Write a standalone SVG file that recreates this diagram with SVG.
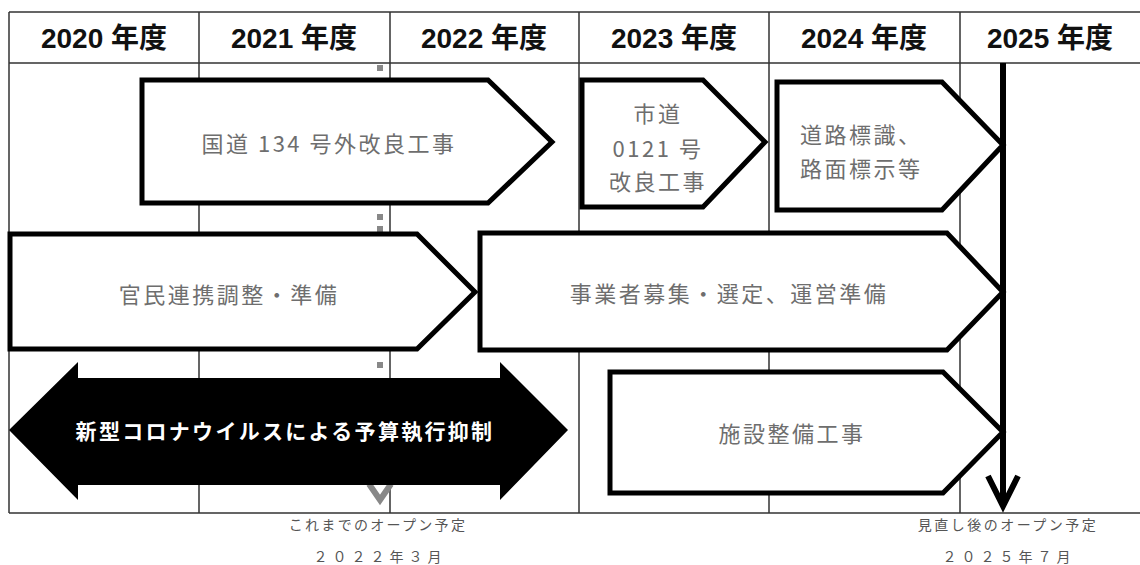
<svg xmlns="http://www.w3.org/2000/svg" width="1140" height="565" viewBox="0 0 1140 565">
<style>
.grid{stroke:#333;stroke-width:1.5;fill:none}
.hdr{font-family:"Liberation Sans","Noto Sans CJK JP",sans-serif;font-weight:bold;font-size:28px;fill:#111;text-anchor:middle;dominant-baseline:central}
.box{fill:#fff;stroke:#000;stroke-width:5;stroke-linejoin:miter}
.lbl{font-family:"Noto Sans CJK JP",sans-serif;font-size:22px;fill:#6e6e6e;letter-spacing:2.5px;dominant-baseline:central}
.mid{text-anchor:middle}
.note{font-family:"Noto Sans CJK JP",sans-serif;font-size:14px;fill:#555;text-anchor:middle}
.big{font-family:"Noto Sans CJK JP",sans-serif;font-weight:bold;font-size:21px;fill:#fff;letter-spacing:2.3px;text-anchor:middle;dominant-baseline:central}
.dot{fill:#888}
</style>
<rect width="1140" height="565" fill="#fff"/>
<g id="table">
<path class="grid" d="M9,12H1140M9,63H1140M9,513H1140M9,12V513M199,12V513M390,12V513M579,12V513M769,12V513M960,12V513"/>
<text class="hdr" x="104" y="38">2020 年度</text>
<text class="hdr" x="294" y="38">2021 年度</text>
<text class="hdr" x="484" y="38">2022 年度</text>
<text class="hdr" x="674" y="38">2023 年度</text>
<text class="hdr" x="864" y="38">2024 年度</text>
<text class="hdr" x="1050" y="38">2025 年度</text>
</g>
<g id="old-open">
<rect class="dot" x="377" y="65" width="6" height="6"/>
<rect class="dot" x="377" y="214" width="6" height="6"/>
<rect class="dot" x="377" y="226" width="6" height="6"/>
<rect class="dot" x="377" y="362" width="6" height="6"/>
<polyline points="369,484 380,500 391,484" fill="none" stroke="#888" stroke-width="6"/>
</g>
<g id="n1">
<polygon class="box" points="142,80 488,80 552,142 488,203 142,203"/>
<text class="lbl mid" x="329" y="142">国道 134 号外改良工事</text>
</g>
<g id="n2">
<polygon class="box" points="582,80 703,80 765,142 703,207 582,207"/>
<text class="lbl mid" x="658" y="112">市道</text>
<text class="lbl mid" x="658" y="147">0121 号</text>
<text class="lbl mid" x="658" y="180">改良工事</text>
</g>
<g id="n3">
<polygon class="box" points="777,82 942,82 1003,145 942,210 777,210"/>
<text class="lbl" x="800" y="133">道路標識、</text>
<text class="lbl" x="800" y="167">路面標示等</text>
</g>
<g id="n4">
<polygon class="box" points="10,234 417,234 475,292 417,349 10,349"/>
<text class="lbl mid" x="229" y="293">官民連携調整・準備</text>
</g>
<g id="n5">
<polygon class="box" points="480,233 947,233 1003,292 947,350 480,350"/>
<text class="lbl mid" x="729" y="292">事業者募集・選定、運営準備</text>
</g>
<g id="n6">
<polygon class="box" points="610,372 943,372 1003,432 943,493 610,493"/>
<text class="lbl mid" x="792" y="432">施設整備工事</text>
</g>
<g id="n7">
<polygon points="9,430 78,362 78,378 500,378 500,362 568,430 500,500 500,485 78,485 78,500" fill="#000"/>
<text class="big" x="285" y="430">新型コロナウイルスによる予算執行抑制</text>
</g>
<g id="connectors">
<line x1="1003" y1="63" x2="1003" y2="505" stroke="#000" stroke-width="6"/>
<polyline points="988,476 1003,506 1018,476" fill="none" stroke="#000" stroke-width="6"/>
</g>
<g id="notes">
<text class="note" x="378" y="530" letter-spacing="2.3">これまでのオープン予定</text>
<text class="note" x="380" y="562" letter-spacing="5">２０２２年３月</text>
<text class="note" x="1008" y="530" letter-spacing="2.5">見直し後のオープン予定</text>
<text class="note" x="1009" y="562" letter-spacing="5">２０２５年７月</text>
</g>
</svg>
